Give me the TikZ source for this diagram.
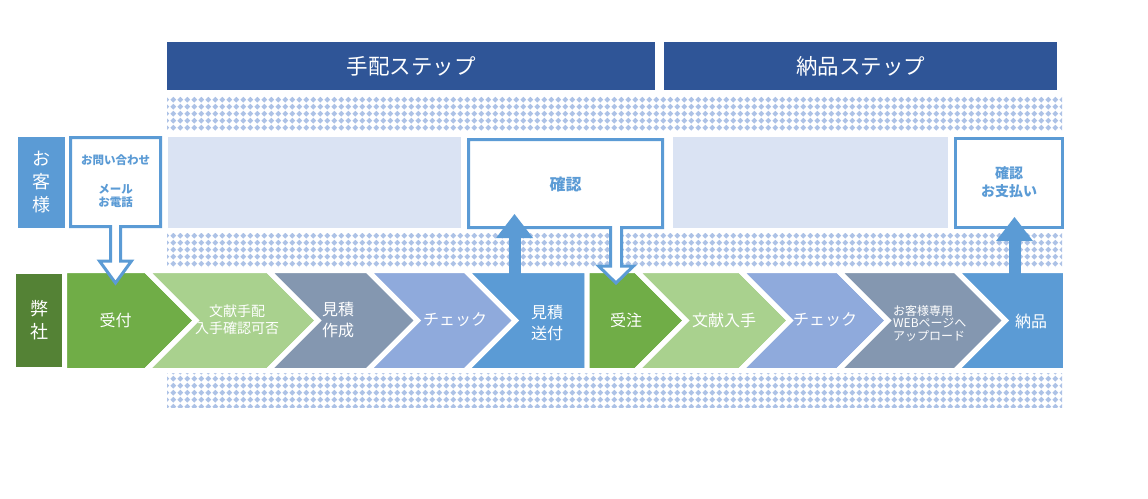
\documentclass[tikz,border=0pt]{standalone}
\usepackage{fontspec}
\setmainfont{Noto Sans CJK JP}
\usetikzlibrary{arrows.meta,patterns.meta}

\definecolor{headblue}{HTML}{2F5597}
\definecolor{dotblue}{HTML}{ADC2E6}
\definecolor{paleblue}{HTML}{DAE3F3}
\definecolor{midblue}{HTML}{5B9BD5}
\definecolor{darkgreen}{HTML}{548235}
\definecolor{leafgreen}{HTML}{70AD47}
\definecolor{lightgreen}{HTML}{A9D18E}
\definecolor{slate}{HTML}{8497B0}
\definecolor{lavblue}{HTML}{8FAADC}

% dotted fill of the bands
\tikzdeclarepattern{
  name=diadots,
  type=uncolored,
  bottom left={(0pt,0pt)},
  top right={(6.8pt,6.8pt)},
  tile size={(6.8pt,6.8pt)},
  code={\fill (3.4pt,0.4pt) -- (6.4pt,3.4pt) -- (3.4pt,6.4pt) -- (0.4pt,3.4pt) -- cycle;}
}

\tikzset{
  band/.style={pattern=diadots, pattern color=dotblue},
  headtext/.style={text=white, font=\fontsize{21.5}{26}\selectfont},
  sidetext/.style={text=white, align=center, font=\fontsize{18}{23}\selectfont},
  chev/.style={draw=white, line width=5pt, line join=miter},
  chevtext/.style={text=white, align=center, font=\fontsize{16}{21}\selectfont},
  callout/.style={draw=midblue, line width=3pt, fill=white, line join=miter},
  calltext/.style={text=midblue, align=center, font=\bfseries\fontsize{14}{18}\selectfont},
  uparrow/.style={draw=midblue, line width=12pt, -{Triangle[width=37pt,length=24pt,line width=0pt]}}
}

\begin{document}
\begin{tikzpicture}[x=1pt,y=-1pt]
\useasboundingbox (0,0) rectangle (1148,498);
% Set the row limits
\def\rowtop{270.5}
\def\rowbot{370.5}
\def\rowmid{320.5}

% Dotted bands
\path[band] (167,96) rectangle (1062,130);
\path[band] (167,233) rectangle (1062,267);
\path[band] (167,373) rectangle (1062,407);

% Step headers
\fill[headblue] (167,42) rectangle (655,90);
\node[headtext] (arrange) at (411,66) {手配ステップ};
\fill[headblue] (664,42) rectangle (1057,90);
\node[headtext] (deliver) at (860.5,66) {納品ステップ};

% Side labels
\fill[midblue] (18,137) rectangle (65,228);
\node[sidetext] (customer) at (41.5,182.5) {お\\客\\様};
\fill[darkgreen] (16,274) rectangle (63,367);
\node[sidetext] (company) at (39.5,320.5) {弊\\社};

% Customer row
\fill[paleblue] (168,137) rectangle (461,228);
\fill[paleblue] (673,137) rectangle (948,228);

% Process chevrons
\filldraw[chev, fill=leafgreen] (64.5,\rowtop) -- (146,\rowtop) -- (196,\rowmid) -- (146,\rowbot) -- (64.5,\rowbot) -- cycle;
\node[chevtext] (receive) at (115.5,320) {受付};
\filldraw[chev, fill=lightgreen] (146,\rowtop) -- (268,\rowtop) -- (318,\rowmid) -- (268,\rowbot) -- (146,\rowbot) -- (196,\rowmid) -- cycle;
\node[chevtext, font=\fontsize{14}{17}\selectfont] (availability) at (237,320) {文献手配\\入手確認可否};
\filldraw[chev, fill=slate] (268,\rowtop) -- (367.5,\rowtop) -- (417.5,\rowmid) -- (367.5,\rowbot) -- (268,\rowbot) -- (318,\rowmid) -- cycle;
\node[chevtext] (estimate) at (338,320) {見積\\作成};
\filldraw[chev, fill=lavblue] (367.5,\rowtop) -- (465.5,\rowtop) -- (515.5,\rowmid) -- (465.5,\rowbot) -- (367.5,\rowbot) -- (417.5,\rowmid) -- cycle;
\node[chevtext] (checkA) at (455,320) {チェック};
\filldraw[chev, fill=midblue] (465.5,\rowtop) -- (587,\rowtop) -- (587,\rowbot) -- (465.5,\rowbot) -- (515.5,\rowmid) -- cycle;
\node[chevtext] (sendquote) at (547,323) {見積\\送付};
\filldraw[chev, fill=leafgreen] (587,\rowtop) -- (636,\rowtop) -- (686,\rowmid) -- (636,\rowbot) -- (587,\rowbot) -- cycle;
\node[chevtext] (order) at (626,320) {受注};
\filldraw[chev, fill=lightgreen] (636,\rowtop) -- (740,\rowtop) -- (790,\rowmid) -- (740,\rowbot) -- (636,\rowbot) -- (686,\rowmid) -- cycle;
\node[chevtext] (obtain) at (724,320) {文献入手};
\filldraw[chev, fill=lavblue] (740,\rowtop) -- (838,\rowtop) -- (888,\rowmid) -- (838,\rowbot) -- (740,\rowbot) -- (790,\rowmid) -- cycle;
\node[chevtext] (checkB) at (825,320) {チェック};
\filldraw[chev, fill=slate] (838,\rowtop) -- (955.5,\rowtop) -- (1005.5,\rowmid) -- (955.5,\rowbot) -- (838,\rowbot) -- (888,\rowmid) -- cycle;
\node[chevtext, align=left, anchor=west, inner sep=0pt, font=\fontsize{12}{12.5}\selectfont] (upload) at (893,323) {お客様専用\\WEBページへ\\アップロード};
\filldraw[chev, fill=midblue] (955.5,\rowtop) -- (1065.5,\rowtop) -- (1065.5,\rowbot) -- (955.5,\rowbot) -- (1005.5,\rowmid) -- cycle;
\node[chevtext] (supply) at (1031,321) {納品};

% Callouts with hollow arrows
\draw[callout] (70.5,137.5) -- (160.5,137.5) -- (160.5,226.5) -- (120.5,226.5) -- (120.5,261) -- (131.5,261) -- (115.5,283)
  -- (99.5,261) -- (110.5,261) -- (110.5,226.5) -- (70.5,226.5) -- cycle;
\node[calltext, font=\bfseries\fontsize{11.5}{13}\selectfont] (inquiry) at (115.5,181) {お問い合わせ\\[16pt]メール\\お電話};
\draw[callout] (468.5,139.5) -- (662.5,139.5) -- (662.5,227.5) -- (621.5,227.5) -- (621.5,266) -- (633.5,266) -- (616,283)
  -- (598.5,266) -- (610.5,266) -- (610.5,227.5) -- (468.5,227.5) -- cycle;
\node[calltext, font=\bfseries\fontsize{16}{18}\selectfont] (confirm) at (565.5,184) {確認};
\draw[callout] (955.5,138.5) rectangle (1062.5,227.5);
\node[calltext] (payment) at (1009,182) {確認\\お支払い};

% Filled arrows up to the customer
\coordinate (quotetop) at (514.5,276);
\coordinate (confirmtip) at (514.5,214);
\draw[uparrow] (quotetop) -- (confirmtip);
\coordinate (supplytop) at (1014.5,276);
\coordinate (paymenttip) at (1014.5,217);
\draw[uparrow] (supplytop) -- (paymenttip);
\end{tikzpicture}
\end{document}
